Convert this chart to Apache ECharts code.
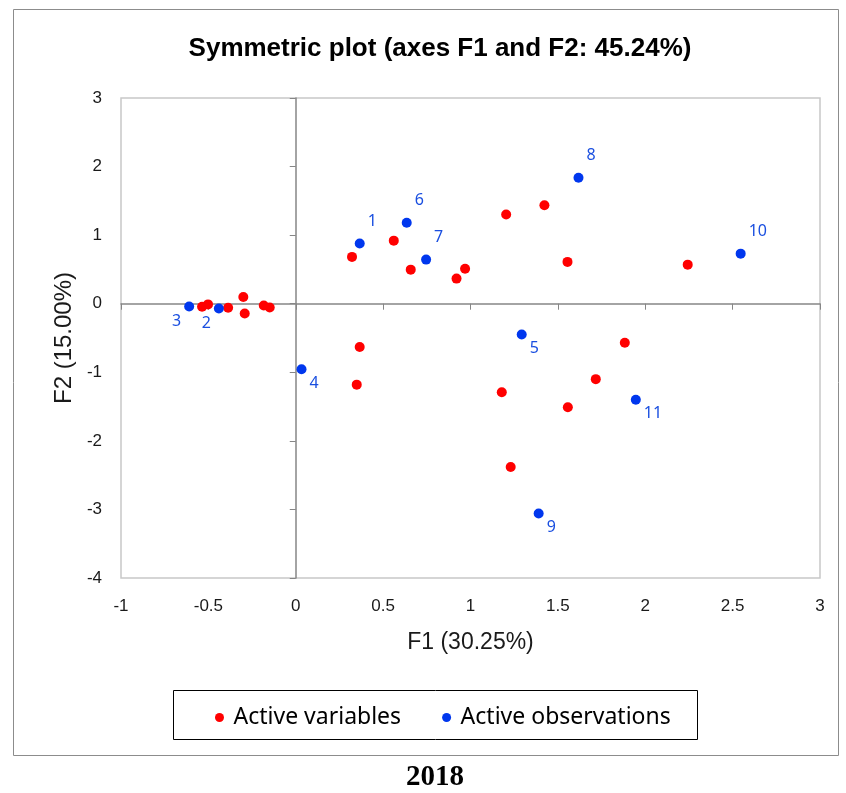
<!DOCTYPE html>
<html>
<head>
<meta charset="utf-8">
<script src="https://cdn.jsdelivr.net/npm/echarts@6/dist/echarts.min.js"></script>
<style>
  html, body { margin: 0; padding: 0; background: #fff; }
  #chart { width: 846px; height: 793px; }
</style>
</head>
<body>
<div id="chart"></div>
<script>
var dom = document.getElementById("chart");
var myChart = echarts.init(dom);

// Active variables (F1, F2)
var varF1 = [0.322, 0.561, 0.658, 0.920, 0.969, 1.204, 1.423, 1.555, 2.243,
             0.366, 0.349, 1.179, 1.883, 1.717, 1.557, 1.230,
             -0.536, -0.502, -0.387, -0.300, -0.292, -0.183, -0.149];
var varF2 = [0.683, 0.920, 0.497, 0.366, 0.510, 1.300, 1.437, 0.610, 0.570,
             -0.630, -1.180, -1.290, -0.570, -1.100, -1.510, -2.380,
             -0.044, -0.010, -0.058, 0.098, -0.142, -0.025, -0.054];

// Active observations (F1, F2) with their labels
var obsNames = ['1', '2', '3', '4', '5', '6', '7', '8', '9', '10', '11'];
var obsF1 = [0.366, -0.440, -0.610, 0.033, 1.293, 0.635, 0.746, 1.618, 1.390, 2.546, 1.946];
var obsF2 = [0.877, -0.070, -0.040, -0.955, -0.450, 1.180, 0.643, 1.838, -3.060, 0.730, -1.400];

// label placement for each observation: ur = upper right, ll = lower left, lr = lower right
var obsLabelPos = ['ur', 'll', 'll', 'lr', 'lr', 'ur', 'ur', 'ur', 'lr', 'ur', 'lr'];

var xTicks = [-1, 3, 0.5];
var yTicks = [-4, 3, 1];

var varData = [];
for (var i = 0; i < varF1.length; i++) {
    varData.push([varF1[i], varF2[i]]);
}

var labelStyles = {
    ur: {position: 'right', distance: 3, offset: [0, -22]},
    ll: {position: 'left', distance: 3, offset: [0, 15]},
    lr: {position: 'right', distance: 3, offset: [0, 14]}
};
var obsData = [];
for (var j = 0; j < obsF1.length; j++) {
    obsData.push({
        name: obsNames[j],
        value: [obsF1[j], obsF2[j]],
        label: labelStyles[obsLabelPos[j]]
    });
}

var sans = 'Liberation Sans';
var labelColor = '#1a1a1a';

option = {
    backgroundColor: '#fff',
    animation: false,
    title: {
        text: 'Symmetric plot (axes F1 and F2: 45.24%)',
        left: 435,
        top: 31,
        textAlign: 'center',
        textStyle: {
            fontFamily: sans,
            fontWeight: 'bold',
            fontSize: 26,
            color: '#000'
        }
    },
    legend: {
        data: ['Active variables', 'Active observations'],
        left: 210,
        top: 701,
        icon: 'circle',
        itemWidth: 18,
        itemHeight: 9,
        itemGap: 41,
        textStyle: {
            fontFamily: 'Noto Sans',
            fontSize: 23,
            color: '#000'
        }
    },
    graphic: [{
        type: 'rect',
        shape: {x: 13.5, y: 9.5, width: 825, height: 746},
        style: {fill: null, stroke: '#8c8c8c', lineWidth: 1},
        silent: true
    }, {
        type: 'rect',
        shape: {x: 173.5, y: 690.5, width: 524, height: 49},
        style: {fill: null, stroke: '#000', lineWidth: 1},
        silent: true
    }, {
        type: 'text',
        x: 435,
        y: 778,
        style: {
            text: '2018',
            align: 'center',
            verticalAlign: 'middle',
            fontFamily: 'Liberation Serif',
            fontWeight: 'bold',
            fontSize: 29,
            fill: '#000'
        }
    }],
    grid: {
        left: 121,
        top: 98,
        right: 26,
        bottom: 215,
        show: true,
        borderColor: '#c8c8c8',
        borderWidth: 1.5
    },
    xAxis: [{
        type: 'value',
        min: xTicks[0],
        max: xTicks[1],
        interval: xTicks[2],
        position: 'bottom',
        name: 'F1 (30.25%)',
        nameLocation: 'middle',
        nameGap: 53,
        nameTextStyle: {fontFamily: sans, fontSize: 23, color: labelColor},
        axisLine: {show: false, onZero: false},
        axisTick: {show: false},
        splitLine: {show: false},
        axisLabel: {fontFamily: sans, fontSize: 17, color: labelColor, margin: 20}
    }, {
        type: 'value',
        min: xTicks[0],
        max: xTicks[1],
        interval: xTicks[2],
        position: 'bottom',
        axisLine: {show: true, onZero: true, lineStyle: {color: '#868686', width: 1.5}},
        axisTick: {show: true, length: 6, lineStyle: {color: '#868686'}},
        splitLine: {show: false},
        axisLabel: {show: false}
    }],
    yAxis: [{
        type: 'value',
        min: yTicks[0],
        max: yTicks[1],
        interval: yTicks[2],
        position: 'left',
        name: 'F2 (15.00%)',
        nameLocation: 'middle',
        nameGap: 45,
        nameTextStyle: {fontFamily: sans, fontSize: 24, color: labelColor},
        axisLine: {show: false, onZero: false},
        axisTick: {show: false},
        splitLine: {show: false},
        axisLabel: {fontFamily: sans, fontSize: 17, color: labelColor, margin: 19}
    }, {
        type: 'value',
        min: yTicks[0],
        max: yTicks[1],
        interval: yTicks[2],
        position: 'left',
        axisLine: {show: true, onZero: true, lineStyle: {color: '#868686', width: 1.5}},
        axisTick: {show: true, length: 6, lineStyle: {color: '#868686'}},
        splitLine: {show: false},
        axisLabel: {show: false}
    }],
    series: [{
        name: 'Active variables',
        type: 'scatter',
        symbolSize: 10,
        itemStyle: {color: '#ff0000', opacity: 1},
        data: varData,
        z: 3
    }, {
        name: 'Active observations',
        type: 'scatter',
        symbolSize: 10,
        itemStyle: {color: '#0037ee', opacity: 1},
        label: {
            show: true,
            formatter: '{b}',
            fontFamily: 'Noto Sans',
            fontSize: 16,
            color: '#1a4fe0'
        },
        data: obsData,
        z: 4
    }]
};

if (option && typeof option === "object") {
    myChart.setOption(option, true);
}
</script>
</body>
</html>
